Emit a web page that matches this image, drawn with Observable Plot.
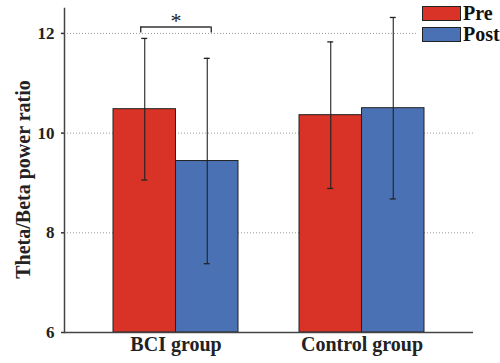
<!DOCTYPE html>
<html>
<head>
<meta charset="utf-8">
<script src="https://cdn.jsdelivr.net/npm/d3@7"></script>
<script src="https://cdn.jsdelivr.net/npm/@observablehq/plot@0.6"></script>
<style>
  html, body { margin: 0; padding: 0; background: #fff; }
  #wrap { position: relative; width: 500px; height: 363px; }
  #legend { position: absolute; left: 418px; top: 3px; width: 82px; background: #fff;
            font-family: "Liberation Serif", "Times New Roman", serif; font-weight: bold; font-size: 20px; color: #111; }
  .item { display: flex; align-items: center; height: 21px; }
  .sw { width: 37px; height: 13px; border: 1.3px solid #222; margin-left: 4px; margin-right: 2px; }
</style>
</head>
<body>
<div id="wrap"><div id="legend"></div></div>
<script>
const groups = ["BCI group", "Control group"];
const series = ["Pre", "Post"];
const colors = ["#D93226", "#4A71B3"];
const preMean = [10.48, 10.36];
const postMean = [9.44, 10.50];
const preSD = [1.42, 1.47];
const postSD = [2.06, 1.82];
const yTicks = [6, 8, 10, 12];
const gridTicks = [8, 10, 12];
const yDomain = [6, 12.5];
const yLabel = "Theta/Beta power ratio";
const sigGroup = "BCI group";
const sigMark = "*";
const sigLevel = [12.01, 12.13];

const rows = [];
groups.forEach((g, i) => {
  rows.push({group: g, series: "Pre", mean: preMean[i], sd: preSD[i]});
  rows.push({group: g, series: "Post", mean: postMean[i], sd: postSD[i]});
});
const sig = [{group: sigGroup, lo: sigLevel[0], hi: sigLevel[1], label: sigMark}];

const W = 500, H = 363, ml = 64, mr = 27, mt = 8, mb = 31;
const pIn = 0.328, pOut = 0.263;
const step = (W - ml - mr) / (groups.length - pIn + 2 * pOut);
const bw = step * (1 - pIn);
const half = bw / 2, quarter = bw / 4;
const dxOf = s => s === "Pre" ? -quarter : quarter;
const capW = 6;

const marks = [
  Plot.gridY(gridTicks, {stroke: "#9a9a9a", strokeOpacity: 1, strokeDasharray: "1,2"}),
];
series.forEach(s => {
  const data = rows.filter(d => d.series === s);
  marks.push(Plot.barY(data, {
    x: "group", y1: () => yDomain[0], y2: "mean", fill: "series",
    stroke: "#222", strokeWidth: 1,
    insetLeft: s === "Pre" ? 0 : half, insetRight: s === "Pre" ? half : 0
  }));
  marks.push(Plot.ruleX(data, {x: "group", y1: d => d.mean - d.sd, y2: d => d.mean + d.sd, dx: dxOf(s), stroke: "#222", strokeWidth: 1.1}));
  marks.push(Plot.tickY(data, {x: "group", y: d => d.mean - d.sd, dx: dxOf(s), insetLeft: (bw - capW) / 2, insetRight: (bw - capW) / 2, stroke: "#222", strokeWidth: 1.3}));
  marks.push(Plot.tickY(data, {x: "group", y: d => d.mean + d.sd, dx: dxOf(s), insetLeft: (bw - capW) / 2, insetRight: (bw - capW) / 2, stroke: "#222", strokeWidth: 1.3}));
});
// significance bracket
const bIn = quarter - 4;
marks.push(Plot.tickY(sig, {x: "group", y: "hi", insetLeft: bIn, insetRight: bIn, stroke: "#333", strokeWidth: 1.4}));
marks.push(Plot.ruleX(sig, {x: "group", y1: "lo", y2: "hi", dx: -(quarter + 4), stroke: "#333", strokeWidth: 1.4}));
marks.push(Plot.ruleX(sig, {x: "group", y1: "lo", y2: "hi", dx: (quarter + 4), stroke: "#333", strokeWidth: 1.4}));
marks.push(Plot.text(sig, {x: "group", y: "hi", text: "label", dy: -6, fontSize: 22, fontWeight: "normal", fill: "#222"}));
// axes
marks.push(Plot.axisY({ticks: yTicks, tickFormat: "d", tickSize: 3, tickPadding: 7, stroke: "#333", strokeWidth: 1.5, fill: "#222",
  fontSize: 17, label: null}));
marks.push(Plot.text([yLabel], {text: d => d, frameAnchor: "left", textAnchor: "middle", rotate: -90, lineAnchor: "middle", dx: -41, dy: 9, fontSize: 20, fill: "#222"}));
marks.push(Plot.axisX({tickSize: 0, tickPadding: 4, fill: "#222", fontSize: 20, label: null}));
marks.push(Plot.frame({anchor: "left", stroke: "#444", strokeWidth: 1.5}));
marks.push(Plot.ruleY([yDomain[0]], {stroke: "#444", strokeWidth: 1.5}));

const plot = Plot.plot({
  width: W, height: H,
  marginLeft: ml, marginRight: mr, marginTop: mt, marginBottom: mb,
  style: {fontFamily: "'Liberation Serif', 'Times New Roman', serif", fontSize: "17px", fontWeight: "bold", background: "#fff", overflow: "visible"},
  x: {domain: groups, paddingInner: pIn, paddingOuter: pOut, label: null},
  y: {domain: yDomain, label: null},
  color: {domain: series, range: colors},
  marks
});
const wrap = document.getElementById("wrap");
wrap.insertBefore(plot, wrap.firstChild);

const legend = document.getElementById("legend");
series.forEach((s, i) => {
  const item = document.createElement("div");
  item.className = "item";
  const sw = document.createElement("div");
  sw.className = "sw";
  sw.style.background = colors[i];
  const t = document.createElement("span");
  t.textContent = s;
  item.appendChild(sw); item.appendChild(t);
  legend.appendChild(item);
});
</script>
</body>
</html>
